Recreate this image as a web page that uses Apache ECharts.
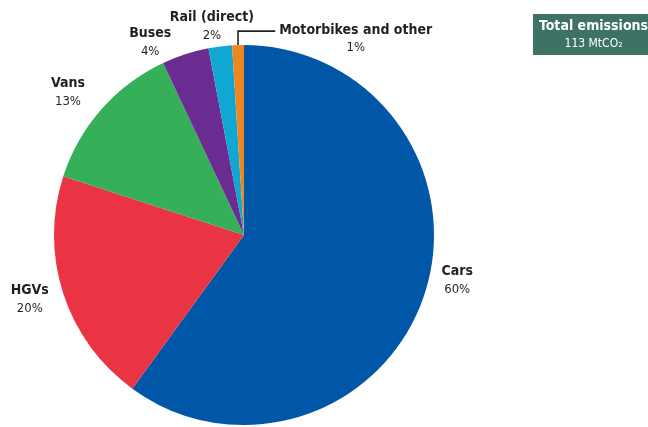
<!DOCTYPE html>
<html>
<head>
<meta charset="utf-8">
<script src="https://cdn.jsdelivr.net/npm/echarts@6/dist/echarts.min.js"></script>
<style>
  html, body { margin: 0; padding: 0; background: #fff; }
  #chart { width: 648px; height: 427px; }
</style>
</head>
<body>
<div id="chart"></div>
<script>
// transport emissions by mode, share of total (%)
const modes = ['Cars', 'HGVs', 'Vans', 'Buses', 'Rail (direct)', 'Motorbikes and other'];
const shares = [60, 20, 13, 4, 2, 1];
const colours = ['#0057a8', '#ea3444', '#35b058', '#6a2c91', '#10a8d2', '#f0871e'];
const totalText = ['Total emissions', '113 MtCO₂'];

// label nudges (dx, dy) from the default outside anchor
const nudges = [[18, -16], [-19, 3], [-21, -10], [-27, -2], [-2, -10], [123, 4]];
const LINE_H = 18;

const FONT = "'Liberation Sans Narrow', 'DejaVu Sans Condensed', sans-serif";

const chart = echarts.init(document.getElementById('chart'));

function placeLabel(p) {
    const [dx, dy] = nudges[p.dataIndex];
    const out = { dx: dx, dy: dy, align: 'center', verticalAlign: 'middle' };
    if (p.dataIndex === modes.length - 1 && p.labelLinePoints) {
        // elbow leader: up from the slice, then across to the text
        const r = p.labelRect;
        const start = p.labelLinePoints[0];
        const left = r.x + r.width / 2 + dx;
        const y = r.y + dy + LINE_H / 2 - 1;
        out.labelLinePoints = [start, [start[0], y], [left - 4, y]];
    }
    return out;
}

const option = {
    animation: false,
    title: {
        text: '{a|' + totalText[0] + '}\n{b|' + totalText[1] + '}',
        right: -6,
        top: 12,
        backgroundColor: '#3e7265',
        padding: [5, 6, 5, 6],
        textStyle: {
            rich: {
                a: { color: '#fff', fontFamily: FONT, fontWeight: 'bold', fontSize: 14, lineHeight: 18, align: 'center' },
                b: { color: '#fff', fontFamily: FONT, fontWeight: 'normal', fontSize: 12, lineHeight: 18, align: 'center' }
            }
        }
    },
    series: [{
        type: 'pie',
        center: [244, 235],
        radius: 190,
        startAngle: 90,
        clockwise: true,
        avoidLabelOverlap: false,
        itemStyle: { borderWidth: 0 },
        label: {
            position: 'outside',
            formatter: p => '{n|' + p.name + '}\n{v|' + p.value + '%}',
            rich: {
                n: { fontFamily: FONT, fontWeight: 'bold', fontSize: 14, color: '#231f20', lineHeight: LINE_H, align: 'center' },
                v: { fontFamily: FONT, fontSize: 13, color: '#231f20', lineHeight: LINE_H, align: 'center' }
            }
        },
        labelLine: { show: false, length: 10, length2: 0 },
        labelLayout: placeLabel,
        data: modes.map((m, i) => ({
            name: m,
            value: shares[i],
            itemStyle: { color: colours[i] },
            labelLine: i === modes.length - 1 ? { show: true, lineStyle: { color: '#231f20', width: 1.6 } } : undefined
        }))
    }]
};

chart.setOption(option);
</script>
</body>
</html>
